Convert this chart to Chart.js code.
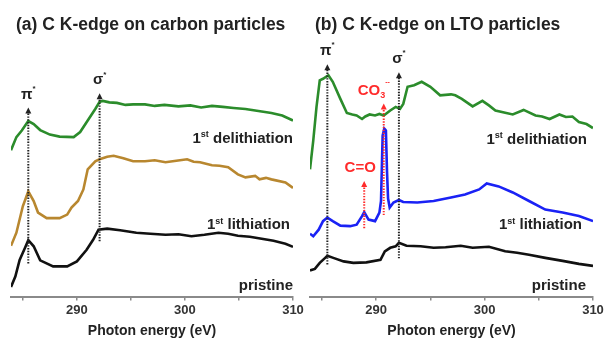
<!DOCTYPE html>
<html>
<head>
<meta charset="utf-8">
<script src="https://cdn.jsdelivr.net/npm/chart.js@4/dist/chart.umd.min.js"></script>
<style>
  body { margin: 0; background: #fff; }
  #wrap { position: relative; width: 606px; height: 340px; }
  .panel { position: absolute; top: 0; height: 340px; }
</style>
</head>
<body>
<div id="wrap">
  <div class="panel" style="left:0"><canvas id="chartA" width="310" height="340"></canvas></div>
  <div class="panel" style="left:303px"><canvas id="chartB" width="303" height="340"></canvas></div>
</div>
<script>
// photon energy ticks (eV), labels only on the tens
const energyTicks = [285, 290, 295, 300, 305, 310];

// (a) carbon particles
const carbonDelithE = [283.9, 284.4, 284.9, 285.5, 286.0, 286.6, 287.5, 288.4, 289.7, 290.3, 291.0, 291.7, 292.1, 292.4, 293.0, 293.7, 294.5, 295.2, 296.3, 297.2, 298.1, 299.4, 300.5, 301.5, 302.5, 303.5, 304.5, 305.6, 306.8, 308.0, 309.0, 310.0];
const carbonDelithI = [2.91, 3.17, 3.30, 3.49, 3.43, 3.31, 3.22, 3.18, 3.17, 3.27, 3.50, 3.73, 3.87, 3.89, 3.86, 3.85, 3.81, 3.82, 3.82, 3.79, 3.81, 3.78, 3.80, 3.76, 3.79, 3.77, 3.75, 3.73, 3.69, 3.65, 3.60, 3.50];

const carbonLithE = [283.9, 284.4, 285.0, 285.5, 286.0, 286.4, 287.2, 288.4, 289.1, 289.5, 290.1, 290.6, 291.0, 291.7, 292.1, 292.8, 293.4, 294.3, 295.2, 296.3, 297.2, 298.2, 299.2, 300.2, 300.8, 301.4, 302.5, 303.2, 304.0, 304.9, 305.6, 306.5, 306.9, 307.5, 308.0, 309.3, 310.0];
const carbonLithI = [1.01, 1.27, 1.80, 2.09, 1.90, 1.67, 1.56, 1.56, 1.63, 1.77, 1.90, 2.13, 2.53, 2.69, 2.73, 2.78, 2.80, 2.75, 2.69, 2.69, 2.71, 2.67, 2.70, 2.73, 2.68, 2.67, 2.61, 2.60, 2.57, 2.43, 2.37, 2.40, 2.33, 2.36, 2.33, 2.27, 2.16];

const carbonPristineE = [283.9, 284.3, 284.7, 285.2, 285.5, 286.0, 286.6, 287.8, 289.1, 290.0, 290.9, 291.5, 292.0, 292.8, 294.0, 295.5, 296.8, 298.2, 299.4, 300.6, 301.8, 303.1, 304.0, 304.9, 306.0, 307.1, 308.2, 309.3, 310.0];
const carbonPristineI = [0.19, 0.40, 0.73, 0.97, 1.12, 1.00, 0.72, 0.60, 0.60, 0.70, 0.93, 1.13, 1.33, 1.35, 1.32, 1.27, 1.25, 1.23, 1.24, 1.20, 1.23, 1.27, 1.25, 1.21, 1.19, 1.15, 1.11, 1.05, 0.99];

// (b) LTO particles
const ltoDelithE = [283.9, 284.2, 284.5, 284.8, 285.1, 285.6, 286.0, 286.7, 287.3, 287.8, 288.2, 288.7, 289.0, 289.4, 289.9, 290.3, 290.7, 291.3, 291.8, 292.2, 292.5, 292.9, 293.5, 294.2, 295.0, 295.9, 296.9, 297.3, 297.9, 298.9, 299.8, 300.4, 301.0, 301.8, 302.6, 303.6, 304.7, 305.3, 306.0, 306.9, 307.5, 308.1, 308.7, 309.4, 310.0];
const ltoDelithI = [2.53, 3.10, 3.77, 4.30, 4.33, 4.40, 4.27, 3.93, 3.65, 3.62, 3.60, 3.53, 3.58, 3.62, 3.60, 3.63, 3.60, 3.70, 3.77, 3.73, 3.83, 4.17, 4.20, 4.27, 4.17, 4.00, 4.02, 4.00, 3.93, 3.78, 3.89, 3.80, 3.70, 3.66, 3.62, 3.71, 3.60, 3.58, 3.53, 3.62, 3.57, 3.58, 3.47, 3.43, 3.35];

const ltoLithE = [283.9, 284.2, 284.7, 285.1, 285.5, 286.0, 286.7, 287.6, 288.2, 288.7, 288.9, 289.3, 289.9, 290.3, 290.45, 290.6, 290.75, 290.9, 291.0, 291.1, 291.25, 291.6, 292.1, 292.5, 293.8, 295.3, 296.9, 298.2, 299.5, 300.2, 301.3, 302.6, 304.1, 305.6, 307.2, 308.7, 310.0];
const ltoLithI = [1.25, 1.20, 1.33, 1.50, 1.57, 1.50, 1.41, 1.40, 1.43, 1.60, 1.68, 1.53, 1.50, 1.67, 1.90, 3.20, 3.34, 3.30, 2.50, 1.95, 1.77, 1.87, 1.92, 1.88, 1.87, 1.90, 1.97, 2.03, 2.13, 2.25, 2.19, 2.07, 1.90, 1.73, 1.67, 1.60, 1.50];

const ltoPristineE = [283.9, 284.35, 284.8, 285.3, 285.5, 286.05, 287.0, 287.9, 289.1, 290.4, 290.8, 291.3, 291.8, 292.1, 292.8, 294.1, 295.3, 296.4, 297.8, 298.9, 300.4, 301.9, 303.0, 304.1, 305.6, 307.2, 308.7, 310.0];
const ltoPristineI = [0.52, 0.55, 0.67, 0.77, 0.81, 0.77, 0.70, 0.67, 0.68, 0.73, 0.90, 0.97, 1.00, 1.07, 1.01, 1.00, 0.97, 0.98, 1.01, 0.97, 0.99, 0.90, 0.87, 0.83, 0.77, 0.71, 0.65, 0.61];

const FONT = '"Liberation Sans", Arial, sans-serif';
const GREEN = '#2b8c2b', GOLD = '#b8872f', BLUE = '#1a22f5', BLACK = '#111', RED = '#ff2b2b';

function pts(xs, ys) {
  return xs.map((x, i) => ({ x: x, y: ys[i] }));
}

function line(xs, ys, color) {
  return { data: pts(xs, ys), borderColor: color, borderWidth: 2.6, pointRadius: 0, tension: 0, fill: false };
}

// text with a small raised or lowered part, e.g. 1st, π*, CO3
function drawPieces(ctx, pieces, x, y, align) {
  let total = 0;
  pieces.forEach(p => { ctx.font = 'bold ' + p.size + 'px ' + FONT; total += ctx.measureText(p.t).width; });
  let cx = align === 'right' ? x - total : align === 'center' ? x - total / 2 : x;
  ctx.textAlign = 'left';
  ctx.textBaseline = 'middle';
  pieces.forEach(p => {
    ctx.font = 'bold ' + p.size + 'px ' + FONT;
    ctx.fillText(p.t, cx, y + (p.dy || 0));
    cx += ctx.measureText(p.t).width;
  });
}

const ordinal = t => [{ t: '1', size: 15 }, { t: 'st', size: 9, dy: -4 }, { t: ' ' + t, size: 15 }];

const panelText = {
  id: 'panelText',
  afterDatasetsDraw(chart, args, o) {
    const ctx = chart.ctx, xs = chart.scales.x, ys = chart.scales.y, area = chart.chartArea;
    ctx.save();
    ctx.fillStyle = '#222';
    drawPieces(ctx, [{ t: o.title, size: 17.5 }], area.left + 5, 25, 'left');

    // dotted arrows marking the resonances
    o.marks.forEach(m => {
      const x = xs.getPixelForValue(m.x);
      const yb = ys.getPixelForValue(m.from);
      const yt = ys.getPixelForValue(m.to);
      ctx.strokeStyle = m.color;
      ctx.lineWidth = 2;
      ctx.setLineDash([1.4, 1.4]);
      ctx.beginPath();
      ctx.moveTo(x, yb);
      ctx.lineTo(x, yt + 5);
      ctx.stroke();
      ctx.setLineDash([]);
      ctx.fillStyle = m.color;
      ctx.beginPath();
      ctx.moveTo(x, yt);
      ctx.lineTo(x - 3, yt + 6);
      ctx.lineTo(x + 3, yt + 6);
      ctx.closePath();
      ctx.fill();
      drawPieces(ctx, m.label, x + (m.dx || 0), yt - 13, 'center');
    });

    // curve names, right aligned
    ctx.fillStyle = '#222';
    o.names.forEach(n => {
      drawPieces(ctx, n.pieces, area.right - n.inset, ys.getPixelForValue(n.y), 'right');
    });
    ctx.restore();
  }
};

function xAxis() {
  return {
    type: 'linear',
    min: 283.9,
    max: 310,
    afterBuildTicks: s => { s.ticks = energyTicks.map(v => ({ value: v })); },
    ticks: {
      callback: v => (v % 10 === 0 ? v : ''),
      font: { family: FONT, size: 13, weight: 'bold' },
      color: '#333',
      padding: 2,
      maxRotation: 0,
      autoSkip: false
    },
    grid: { drawOnChartArea: false, drawTicks: true, tickLength: 4, color: '#8a8a8a', lineWidth: 1.5 },
    border: { display: true, color: '#8a8a8a', width: 2 },
    title: {
      display: true,
      text: 'Photon energy (eV)',
      font: { family: FONT, size: 14, weight: 'bold' },
      color: '#222',
      padding: { top: 3, bottom: 0 }
    }
  };
}

function makeChart(id, datasets, pad, text) {
  return new Chart(id, {
    type: 'line',
    data: { datasets: datasets },
    options: {
      responsive: false,
      animation: false,
      layout: { padding: pad },
      scales: {
        x: xAxis(),
        y: { display: false, min: 0, max: 5.1 }
      },
      plugins: {
        legend: { display: false },
        tooltip: { enabled: false },
        panelText: text
      }
    },
    plugins: [panelText]
  });
}

const pi = [{ t: 'π', size: 15 }, { t: '*', size: 8, dy: -6 }];
const sigma = [{ t: 'σ', size: 15 }, { t: '*', size: 8, dy: -6 }];

makeChart('chartA', [
  line(carbonDelithE, carbonDelithI, GREEN),
  line(carbonLithE, carbonLithI, GOLD),
  line(carbonPristineE, carbonPristineI, BLACK)
], { top: 40, left: 11, right: 17, bottom: 0 }, {
  title: '(a) C K-edge on carbon particles',
  marks: [
    { x: 285.5, from: 0.66, to: 3.76, color: '#222', label: pi },
    { x: 292.1, from: 1.10, to: 4.04, color: '#222', label: sigma }
  ],
  names: [
    { pieces: ordinal('delithiation'), y: 3.14, inset: 0 },
    { pieces: ordinal('lithiation'), y: 1.42, inset: 3 },
    { pieces: [{ t: 'pristine', size: 15 }], y: 0.22, inset: 0 }
  ]
});

makeChart('chartB', [
  line(ltoDelithE, ltoDelithI, GREEN),
  line(ltoLithE, ltoLithI, BLUE),
  line(ltoPristineE, ltoPristineI, BLACK)
], { top: 40, left: 7, right: 13, bottom: 0 }, {
  title: '(b) C K-edge on LTO particles',
  marks: [
    { x: 285.5, from: 0.64, to: 4.62, color: '#222', label: pi },
    { x: 292.1, from: 0.76, to: 4.46, color: '#222', label: sigma },
    { x: 288.9, from: 1.36, to: 2.30, color: RED, label: [{ t: 'C=O', size: 15 }], dx: -4 },
    { x: 290.7, from: 1.62, to: 3.84, color: RED, dx: -10, label: [
      { t: 'CO', size: 15 }, { t: '3', size: 9, dy: 5 }, { t: '--', size: 7, dy: -8 }
    ] }
  ],
  names: [
    { pieces: ordinal('delithiation'), y: 3.12, inset: 6 },
    { pieces: ordinal('lithiation'), y: 1.42, inset: 11 },
    { pieces: [{ t: 'pristine', size: 15 }], y: 0.22, inset: 7 }
  ]
});
</script>
</body>
</html>
